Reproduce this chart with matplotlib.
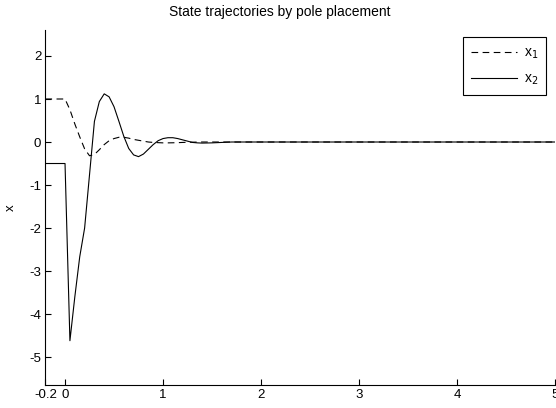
import numpy as np
import matplotlib
matplotlib.use("Agg")
import matplotlib.pyplot as plt

plt.rcParams["font.family"] = ["Liberation Sans", "DejaVu Sans"]
plt.rcParams["axes.unicode_minus"] = False

# time samples (s)
t = [-0.2, 0.0, 0.05, 0.10, 0.15, 0.20, 0.25, 0.30, 0.35, 0.40, 0.45, 0.50,
     0.55, 0.60, 0.65, 0.70, 0.75, 0.80, 0.85, 0.90, 0.95, 1.00, 1.05, 1.10,
     1.15, 1.20, 1.25, 1.30, 1.35, 1.40, 1.50, 1.60, 1.70, 2.0, 3.0, 4.0, 5.0]

x1 = [1.0, 1.0, 0.75, 0.42, 0.12, -0.16, -0.32, -0.29, -0.18, -0.06, 0.03, 0.08,
      0.11, 0.11, 0.09, 0.06, 0.04, 0.02, 0.0, -0.01, -0.015, -0.02, -0.02, -0.018,
      -0.015, -0.01, -0.007, -0.004, -0.002, 0.0, 0.0, 0.0, 0.0, 0.0, 0.0, 0.0, 0.0]

x2 = [-0.5, -0.5, -4.62, -3.6, -2.67, -2.0, -0.76, 0.48, 0.94, 1.12, 1.05, 0.82,
      0.48, 0.13, -0.15, -0.30, -0.34, -0.28, -0.17, -0.06, 0.03, 0.08, 0.10, 0.10,
      0.08, 0.05, 0.02, -0.01, -0.02, -0.025, -0.02, -0.01, 0.0, 0.0, 0.0, 0.0, 0.0]

fig = plt.figure(figsize=(5.56, 4.08), dpi=100)
ax = fig.add_axes([0.0817, 0.0564, 0.9165, 0.8696])

ax.plot(t, x1, color="black", linestyle=(0, (6, 4)), linewidth=0.8, label="x$_1$")
ax.plot(t, x2, color="black", linestyle="-", linewidth=0.8, label="x$_2$")

ax.set_xlim(-0.2, 5)
ax.set_ylim(-5.65, 2.6)
ax.set_xticks([-0.2, 0, 1, 2, 3, 4, 5])
ax.set_xticklabels(["-0.2", "0", "1", "2", "3", "4", "5"])
ax.set_yticks([-5, -4, -3, -2, -1, 0, 1, 2])

for s in ["top", "right"]:
    ax.spines[s].set_visible(False)
for s in ["left", "bottom"]:
    ax.spines[s].set_linewidth(0.8)

ax.tick_params(direction="in", length=4, width=0.8, labelsize=9.5, pad=3)
ax.set_ylabel("x", fontsize=9.5)
ax.yaxis.set_label_coords(-0.057, 0.5)

fig.text(0.504, 0.97, "State trajectories by pole placement",
         ha="center", va="center", fontsize=10)

leg = ax.legend(loc="upper right", bbox_to_anchor=(0.983, 0.98), fontsize=10,
                fancybox=False, framealpha=1, edgecolor="black",
                handlelength=3.3, handletextpad=0.5, borderpad=0.6,
                labelspacing=0.75, borderaxespad=0.0, markerfirst=True)
leg.get_frame().set_linewidth(0.8)

fig.savefig("out.png", dpi=100)
